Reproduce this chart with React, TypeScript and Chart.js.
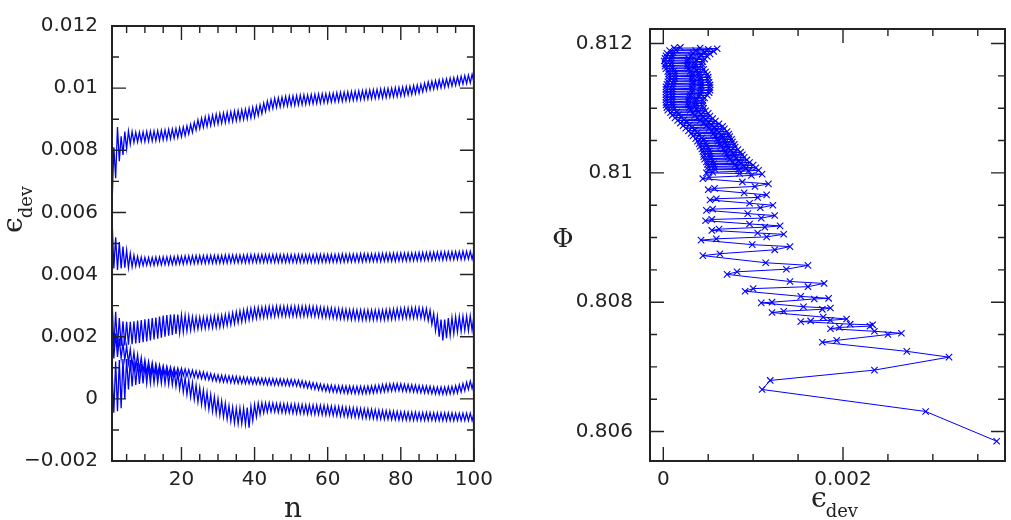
import React, { useEffect, useRef } from "react";
import { Chart, registerables } from "chart.js";

Chart.register(...registerables);

const BLUE = "#0000ff";
const AXIS = "#222222";
const TICK_FONT = { family: "DejaVu Sans", size: 20 };
const TITLE_FONT = "DejaVu Serif";

// ---- Left panel: eps_dev (x 1e-3) read at n = 1, 1.5, 2, ... 100 ----
const N_FIRST = 1;
const N_STEP = 0.5;
const EPS_SCALE = 1e-3;

const series1 = [
  6.20, 8.10, 7.10, 8.75, 7.65, 8.45, 7.85, 8.60, 8.05, 8.62, 8.20, 8.60, 8.25, 8.58, 8.27, 8.58, 8.28, 8.59, 8.28, 8.60,
  8.29, 8.61, 8.30, 8.62, 8.31, 8.63, 8.32, 8.64, 8.34, 8.65, 8.35, 8.67, 8.37, 8.68, 8.39, 8.70, 8.41, 8.72, 8.44, 8.75,
  8.47, 8.78, 8.52, 8.83, 8.58, 8.90, 8.65, 8.98, 8.70, 9.03, 8.74, 9.07, 8.77, 9.10, 8.80, 9.13, 8.83, 9.16, 8.85, 9.18,
  8.87, 9.20, 8.89, 9.22, 8.91, 9.24, 8.93, 9.26, 8.95, 9.28, 8.97, 9.30, 8.99, 9.32, 9.01, 9.35, 9.04, 9.38, 9.07, 9.41,
  9.12, 9.46, 9.18, 9.52, 9.25, 9.58, 9.31, 9.63, 9.35, 9.67, 9.38, 9.69, 9.40, 9.71, 9.42, 9.73, 9.43, 9.74, 9.44, 9.75,
  9.45, 9.76, 9.46, 9.77, 9.47, 9.78, 9.48, 9.78, 9.49, 9.79, 9.50, 9.80, 9.51, 9.81, 9.52, 9.82, 9.53, 9.82, 9.54, 9.83,
  9.55, 9.84, 9.56, 9.85, 9.57, 9.86, 9.58, 9.87, 9.59, 9.88, 9.60, 9.89, 9.61, 9.90, 9.62, 9.91, 9.63, 9.92, 9.64, 9.93,
  9.65, 9.94, 9.66, 9.95, 9.67, 9.96, 9.68, 9.97, 9.69, 9.98, 9.70, 9.99, 9.71, 10.00, 9.72, 10.01, 9.73, 10.02, 9.75, 10.03,
  9.76, 10.05, 9.78, 10.06, 9.80, 10.08, 9.82, 10.10, 9.84, 10.12, 9.88, 10.16, 9.92, 10.20, 9.95, 10.22, 9.97, 10.24, 9.99, 10.26,
  10.01, 10.28, 10.03, 10.30, 10.05, 10.32, 10.07, 10.34, 10.09, 10.36, 10.11, 10.38, 10.13, 10.40, 10.15, 10.42, 10.17, 10.44, 10.19,
];

const series2 = [
  5.85, 4.20, 5.20, 4.15, 5.05, 4.20, 4.90, 4.22, 4.78, 4.22, 4.68, 4.25, 4.62, 4.27, 4.58, 4.28, 4.56, 4.29, 4.55, 4.30,
  4.55, 4.30, 4.55, 4.30, 4.56, 4.31, 4.56, 4.31, 4.57, 4.32, 4.57, 4.32, 4.58, 4.33, 4.58, 4.33, 4.59, 4.34, 4.59, 4.34,
  4.60, 4.35, 4.60, 4.35, 4.60, 4.35, 4.61, 4.36, 4.61, 4.36, 4.61, 4.36, 4.62, 4.37, 4.62, 4.37, 4.62, 4.37, 4.62, 4.37,
  4.62, 4.37, 4.63, 4.37, 4.63, 4.38, 4.63, 4.38, 4.63, 4.38, 4.63, 4.38, 4.63, 4.38, 4.64, 4.38, 4.64, 4.39, 4.64, 4.39,
  4.64, 4.39, 4.64, 4.39, 4.64, 4.39, 4.64, 4.39, 4.64, 4.39, 4.64, 4.39, 4.64, 4.39, 4.64, 4.39, 4.64, 4.39, 4.64, 4.39,
  4.64, 4.39, 4.64, 4.39, 4.64, 4.39, 4.64, 4.39, 4.64, 4.39, 4.64, 4.39, 4.65, 4.39, 4.65, 4.40, 4.65, 4.40, 4.65, 4.40,
  4.65, 4.40, 4.65, 4.40, 4.65, 4.40, 4.66, 4.40, 4.66, 4.41, 4.66, 4.41, 4.66, 4.41, 4.66, 4.41, 4.67, 4.41, 4.67, 4.42,
  4.67, 4.42, 4.67, 4.42, 4.67, 4.42, 4.68, 4.42, 4.68, 4.43, 4.68, 4.43, 4.68, 4.43, 4.69, 4.43, 4.69, 4.44, 4.69, 4.44,
  4.69, 4.44, 4.70, 4.44, 4.70, 4.45, 4.70, 4.45, 4.71, 4.45, 4.71, 4.46, 4.71, 4.46, 4.72, 4.46, 4.72, 4.47, 4.72, 4.47,
  4.73, 4.47, 4.73, 4.48, 4.73, 4.48, 4.74, 4.48, 4.74, 4.49, 4.74, 4.49, 4.75, 4.49, 4.75, 4.50, 4.75, 4.50, 4.76,
];

const series3 = [
  3.30, 1.60, 2.80, 1.65, 2.60, 1.70, 2.50, 1.72, 2.48, 1.74, 2.48, 1.76, 2.50, 1.78, 2.52, 1.80, 2.54, 1.82, 2.56, 1.85,
  2.58, 1.88, 2.60, 1.91, 2.62, 1.94, 2.65, 1.97, 2.68, 2.00, 2.70, 2.03, 2.71, 2.06, 2.72, 2.09, 2.71, 2.12, 2.70, 2.15,
  2.68, 2.18, 2.66, 2.21, 2.64, 2.23, 2.63, 2.25, 2.63, 2.26, 2.63, 2.27, 2.64, 2.28, 2.65, 2.29, 2.66, 2.30, 2.67, 2.31,
  2.69, 2.33, 2.71, 2.36, 2.74, 2.39, 2.77, 2.42, 2.80, 2.45, 2.83, 2.48, 2.86, 2.51, 2.89, 2.54, 2.91, 2.57, 2.93, 2.59,
  2.94, 2.61, 2.95, 2.62, 2.96, 2.63, 2.97, 2.64, 2.97, 2.65, 2.98, 2.66, 2.98, 2.66, 2.98, 2.66, 2.98, 2.66, 2.98, 2.66,
  2.98, 2.66, 2.98, 2.66, 2.98, 2.66, 2.98, 2.66, 2.98, 2.66, 2.97, 2.65, 2.96, 2.64, 2.95, 2.63, 2.94, 2.62, 2.93, 2.61,
  2.92, 2.60, 2.91, 2.59, 2.90, 2.58, 2.89, 2.57, 2.88, 2.56, 2.87, 2.55, 2.87, 2.55, 2.86, 2.54, 2.86, 2.54, 2.86, 2.54,
  2.86, 2.54, 2.86, 2.54, 2.86, 2.54, 2.86, 2.54, 2.86, 2.54, 2.87, 2.55, 2.88, 2.56, 2.89, 2.57, 2.90, 2.58, 2.91, 2.59,
  2.92, 2.60, 2.92, 2.60, 2.93, 2.60, 2.93, 2.60, 2.93, 2.60, 2.92, 2.58, 2.90, 2.52, 2.85, 2.40, 2.75, 2.20, 2.65, 2.00,
  2.55, 1.88, 2.55, 1.95, 2.60, 2.05, 2.62, 2.10, 2.64, 2.15, 2.65, 2.18, 2.66, 2.20, 2.66, 2.20, 2.67, 2.21, 2.67,
];

const series4 = [
  2.40, 1.30, 2.10, 1.35, 1.95, 1.30, 1.80, 1.25, 1.70, 1.15, 1.60, 1.05, 1.50, 0.98, 1.42, 0.92, 1.33, 0.87, 1.25, 0.82,
  1.20, 0.81, 1.16, 0.80, 1.12, 0.79, 1.09, 0.79, 1.06, 0.78, 1.04, 0.78, 1.02, 0.77, 1.00, 0.77, 0.99, 0.76, 0.98, 0.75,
  0.96, 0.73, 0.94, 0.71, 0.92, 0.69, 0.90, 0.67, 0.88, 0.65, 0.86, 0.63, 0.84, 0.61, 0.81, 0.59, 0.79, 0.57, 0.77, 0.55,
  0.76, 0.54, 0.75, 0.53, 0.74, 0.52, 0.73, 0.51, 0.72, 0.50, 0.71, 0.50, 0.70, 0.49, 0.69, 0.49, 0.68, 0.48, 0.67, 0.48,
  0.67, 0.47, 0.66, 0.46, 0.66, 0.45, 0.65, 0.45, 0.65, 0.44, 0.64, 0.44, 0.64, 0.43, 0.63, 0.43, 0.63, 0.42, 0.62, 0.42,
  0.61, 0.41, 0.60, 0.39, 0.58, 0.37, 0.56, 0.35, 0.54, 0.33, 0.52, 0.31, 0.50, 0.29, 0.48, 0.27, 0.46, 0.25, 0.45, 0.23,
  0.44, 0.22, 0.43, 0.21, 0.42, 0.20, 0.42, 0.19, 0.41, 0.18, 0.41, 0.18, 0.40, 0.17, 0.40, 0.17, 0.40, 0.17, 0.40, 0.17,
  0.41, 0.18, 0.42, 0.19, 0.43, 0.20, 0.44, 0.21, 0.46, 0.23, 0.47, 0.24, 0.48, 0.25, 0.49, 0.26, 0.49, 0.26, 0.48, 0.25,
  0.47, 0.24, 0.46, 0.23, 0.45, 0.22, 0.44, 0.21, 0.43, 0.20, 0.42, 0.19, 0.41, 0.18, 0.40, 0.17, 0.39, 0.16, 0.38, 0.15,
  0.38, 0.15, 0.38, 0.15, 0.39, 0.16, 0.40, 0.17, 0.42, 0.19, 0.45, 0.22, 0.49, 0.26, 0.53, 0.30, 0.57, 0.33, 0.60,
];

const series5 = [
  1.00, -0.45, 1.20, -0.40, 1.25, -0.30, 1.28, 0.00, 1.28, 0.30, 1.25, 0.40, 1.20, 0.45, 1.16, 0.48, 1.12, 0.50, 1.08, 0.50,
  1.06, 0.51, 1.04, 0.51, 1.02, 0.51, 1.00, 0.50, 0.98, 0.49, 0.96, 0.47, 0.94, 0.45, 0.90, 0.40, 0.84, 0.32, 0.76, 0.22,
  0.68, 0.14, 0.60, 0.06, 0.52, -0.02, 0.44, -0.10, 0.36, -0.18, 0.28, -0.26, 0.21, -0.33, 0.14, -0.40, 0.07, -0.46, 0.00, -0.52,
  -0.07, -0.58, -0.14, -0.65, -0.22, -0.72, -0.27, -0.78, -0.30, -0.80, -0.30, -0.80, -0.30, -0.82, -0.28, -0.93, -0.24, -0.70, -0.18, -0.58,
  -0.14, -0.50, -0.13, -0.45, -0.13, -0.43, -0.13, -0.42, -0.14, -0.42, -0.15, -0.43, -0.15, -0.44, -0.16, -0.45, -0.16, -0.45, -0.17, -0.46,
  -0.17, -0.47, -0.18, -0.47, -0.18, -0.48, -0.19, -0.49, -0.19, -0.49, -0.20, -0.50, -0.20, -0.50, -0.21, -0.51, -0.21, -0.52, -0.22, -0.52,
  -0.23, -0.53, -0.24, -0.54, -0.25, -0.55, -0.26, -0.56, -0.27, -0.57, -0.28, -0.58, -0.29, -0.59, -0.30, -0.60, -0.31, -0.61, -0.32, -0.62,
  -0.33, -0.63, -0.34, -0.64, -0.35, -0.65, -0.36, -0.65, -0.37, -0.66, -0.38, -0.66, -0.39, -0.67, -0.40, -0.67, -0.41, -0.68, -0.42, -0.68,
  -0.42, -0.68, -0.43, -0.69, -0.43, -0.69, -0.43, -0.69, -0.44, -0.69, -0.44, -0.69, -0.44, -0.69, -0.44, -0.69, -0.45, -0.70, -0.45, -0.70,
  -0.45, -0.70, -0.45, -0.70, -0.45, -0.70, -0.45, -0.70, -0.46, -0.70, -0.46, -0.70, -0.46, -0.70, -0.46, -0.70, -0.46, -0.70, -0.46,
];

// ---- Right panel: (eps_dev x 1e-3, Phi) path, from the last cycle (top) down to the first ----
const phiEps = [
  0.19, 0.12, 0.41, 0.60, 0.50, 0.14, 0.07, 0.36, 0.56, 0.46, 0.11, 0.04, 0.33, 0.52, 0.42, 0.10, 0.03, 0.31, 0.49, 0.40,
  0.09, 0.02, 0.28, 0.46, 0.37, 0.08, 0.01, 0.27, 0.44, 0.35, 0.09, 0.02, 0.27, 0.43, 0.35, 0.09, 0.02, 0.27, 0.43, 0.35,
  0.10, 0.03, 0.28, 0.45, 0.37, 0.12, 0.05, 0.30, 0.47, 0.39, 0.13, 0.06, 0.32, 0.49, 0.40, 0.13, 0.06, 0.32, 0.50, 0.41,
  0.13, 0.06, 0.32, 0.50, 0.41, 0.12, 0.05, 0.33, 0.51, 0.42, 0.11, 0.04, 0.33, 0.52, 0.42, 0.10, 0.03, 0.32, 0.52, 0.42,
  0.10, 0.03, 0.32, 0.52, 0.42, 0.10, 0.03, 0.32, 0.51, 0.41, 0.10, 0.03, 0.30, 0.49, 0.40, 0.10, 0.03, 0.29, 0.46, 0.37,
  0.10, 0.03, 0.28, 0.44, 0.36, 0.10, 0.03, 0.28, 0.44, 0.36, 0.10, 0.03, 0.28, 0.44, 0.36, 0.11, 0.04, 0.29, 0.45, 0.37,
  0.12, 0.05, 0.30, 0.47, 0.39, 0.15, 0.08, 0.33, 0.50, 0.42, 0.17, 0.10, 0.35, 0.52, 0.44, 0.20, 0.13, 0.38, 0.55, 0.47,
  0.23, 0.16, 0.41, 0.58, 0.50, 0.26, 0.19, 0.45, 0.62, 0.53, 0.29, 0.22, 0.48, 0.66, 0.57, 0.32, 0.25, 0.51, 0.68, 0.59,
  0.35, 0.28, 0.54, 0.71, 0.62, 0.38, 0.31, 0.56, 0.73, 0.65, 0.40, 0.33, 0.58, 0.74, 0.66, 0.43, 0.36, 0.60, 0.76, 0.68,
  0.45, 0.38, 0.61, 0.77, 0.69, 0.47, 0.40, 0.63, 0.79, 0.71, 0.48, 0.41, 0.64, 0.80, 0.72, 0.50, 0.43, 0.67, 0.83, 0.75,
  0.51, 0.44, 0.69, 0.86, 0.78, 0.52, 0.45, 0.71, 0.88, 0.79, 0.52, 0.45, 0.72, 0.90, 0.81, 0.53, 0.46, 0.74, 0.93, 0.84,
  0.55, 0.48, 0.77, 0.96, 0.86, 0.56, 0.49, 0.80, 1.00, 0.90, 0.57, 0.50, 0.82, 1.03, 0.92, 0.57, 0.50, 0.84, 1.06, 0.95,
  0.55, 0.48, 0.85, 1.10, 0.98, 0.51, 0.44, 0.88, 1.17, 1.02, 0.57, 0.50, 0.90, 1.15, 1.05, 0.59, 0.52, 0.96, 1.22, 1.08,
  0.55, 0.48, 0.94, 1.24, 1.09, 0.54, 0.47, 0.96, 1.30, 1.13, 0.62, 0.54, 1.05, 1.34, 1.15, 0.59, 0.42, 0.99, 1.41, 1.24,
  0.63, 0.44, 1.14, 1.61, 1.37, 0.82, 0.71, 1.41, 1.79, 1.61, 1.00, 0.91, 1.53, 1.84, 1.68, 1.21, 1.09, 1.56, 1.86, 1.77,
  1.34, 1.21, 1.78, 2.04, 1.86, 1.64, 1.53, 2.08, 2.33, 2.30, 1.96, 1.86, 2.35, 2.65, 2.50, 1.93, 1.77, 2.71, 3.18, 2.35,
  1.19, 1.10, 2.92, 3.71,
];

const phiVals = [
  0.81194, 0.81193, 0.81193, 0.81192, 0.81191, 0.81190, 0.81189, 0.81189, 0.81188, 0.81187,
  0.81186, 0.81185, 0.81185, 0.81184, 0.81183, 0.81182, 0.81181, 0.81181, 0.81180, 0.81179,
  0.81178, 0.81177, 0.81177, 0.81176, 0.81175, 0.81174, 0.81173, 0.81173, 0.81172, 0.81171,
  0.81170, 0.81169, 0.81169, 0.81168, 0.81167, 0.81166, 0.81165, 0.81165, 0.81164, 0.81163,
  0.81162, 0.81161, 0.81161, 0.81160, 0.81159, 0.81158, 0.81157, 0.81157, 0.81156, 0.81155,
  0.81154, 0.81153, 0.81153, 0.81152, 0.81151, 0.81150, 0.81149, 0.81149, 0.81148, 0.81147,
  0.81146, 0.81145, 0.81145, 0.81144, 0.81143, 0.81142, 0.81141, 0.81141, 0.81140, 0.81139,
  0.81138, 0.81137, 0.81137, 0.81136, 0.81135, 0.81134, 0.81133, 0.81133, 0.81132, 0.81131,
  0.81130, 0.81129, 0.81129, 0.81128, 0.81127, 0.81126, 0.81125, 0.81125, 0.81124, 0.81123,
  0.81122, 0.81121, 0.81121, 0.81120, 0.81119, 0.81118, 0.81117, 0.81117, 0.81116, 0.81115,
  0.81114, 0.81113, 0.81113, 0.81112, 0.81111, 0.81110, 0.81109, 0.81109, 0.81108, 0.81107,
  0.81106, 0.81105, 0.81105, 0.81104, 0.81103, 0.81102, 0.81101, 0.81101, 0.81100, 0.81099,
  0.81098, 0.81097, 0.81097, 0.81096, 0.81095, 0.81094, 0.81093, 0.81093, 0.81092, 0.81091,
  0.81090, 0.81089, 0.81089, 0.81088, 0.81087, 0.81086, 0.81085, 0.81085, 0.81084, 0.81083,
  0.81082, 0.81081, 0.81081, 0.81080, 0.81079, 0.81078, 0.81077, 0.81077, 0.81076, 0.81075,
  0.81074, 0.81073, 0.81073, 0.81072, 0.81071, 0.81070, 0.81069, 0.81069, 0.81068, 0.81067,
  0.81066, 0.81065, 0.81065, 0.81064, 0.81063, 0.81062, 0.81061, 0.81061, 0.81060, 0.81059,
  0.81058, 0.81057, 0.81057, 0.81056, 0.81055, 0.81054, 0.81053, 0.81053, 0.81052, 0.81051,
  0.81050, 0.81049, 0.81049, 0.81048, 0.81047, 0.81046, 0.81045, 0.81045, 0.81044, 0.81043,
  0.81042, 0.81041, 0.81041, 0.81040, 0.81039, 0.81038, 0.81037, 0.81037, 0.81036, 0.81035,
  0.81034, 0.81033, 0.81033, 0.81032, 0.81031, 0.81030, 0.81029, 0.81029, 0.81028, 0.81027,
  0.81026, 0.81025, 0.81025, 0.81024, 0.81023, 0.81022, 0.81021, 0.81021, 0.81020, 0.81019,
  0.81018, 0.81017, 0.81017, 0.81016, 0.81015, 0.81014, 0.81013, 0.81013, 0.81012, 0.81011,
  0.81010, 0.81009, 0.81009, 0.81008, 0.81007, 0.81006, 0.81005, 0.81005, 0.81004, 0.81003,
  0.81001, 0.81000, 0.80999, 0.80998, 0.80996, 0.80993, 0.80991, 0.80986, 0.80983, 0.80979,
  0.80976, 0.80974, 0.80969, 0.80966, 0.80962, 0.80960, 0.80958, 0.80953, 0.80950, 0.80946,
  0.80944, 0.80942, 0.80937, 0.80934, 0.80930, 0.80928, 0.80926, 0.80921, 0.80918, 0.80916,
  0.80913, 0.80911, 0.80907, 0.80905, 0.80901, 0.80898, 0.80896, 0.80889, 0.80886, 0.80881,
  0.80875, 0.80872, 0.80861, 0.80857, 0.80851, 0.80847, 0.80843, 0.80832, 0.80829, 0.80824,
  0.80821, 0.80817, 0.80809, 0.80806, 0.80805, 0.80800, 0.80799, 0.80793, 0.80791, 0.80789,
  0.80786, 0.80784, 0.80777, 0.80774, 0.80772, 0.80771, 0.80770, 0.80766, 0.80765, 0.80763,
  0.80761, 0.80759, 0.80755, 0.80752, 0.80750, 0.80741, 0.80738, 0.80724, 0.80715, 0.80695,
  0.80679, 0.80665, 0.80631, 0.80585,
];

// ---- Axes ----
const leftXRange = [1, 100];
const leftYRange = [-0.002, 0.012];
const leftXMajor = [20, 40, 60, 80, 100];
const leftXLabels = ["20", "40", "60", "80", "100"];
const leftXMinor = [5, 10, 15, 25, 30, 35, 45, 50, 55, 65, 70, 75, 85, 90, 95];
const leftYMajor = [-0.002, 0, 0.002, 0.004, 0.006, 0.008, 0.01, 0.012];
const leftYLabels = ["\u22120.002", "0", "0.002", "0.004", "0.006", "0.008", "0.01", "0.012"];
const leftYMinor = [-0.001, 0.001, 0.003, 0.005, 0.007, 0.009, 0.011];

const rightXRange = [-0.000148, 0.003803];
const rightYRange = [0.805544, 0.812225];
const rightXMajor = [0, 0.002];
const rightXLabels = ["0", "0.002"];
const rightXMinor = [0.0005, 0.001, 0.0015, 0.0025, 0.003, 0.0035];
const rightYMajor = [0.806, 0.808, 0.81, 0.812];
const rightYLabels = ["0.806", "0.808", "0.81", "0.812"];
const rightYMinor = [0.8065, 0.807, 0.8075, 0.8085, 0.809, 0.8095, 0.8105, 0.811, 0.8115];

const MAJOR_LEN = 14;
const MINOR_LEN = 7;

type FrameCfg = {
  xMajor: number[];
  xMinor: number[];
  yMajor: number[];
  yMinor: number[];
  titles: (ctx: CanvasRenderingContext2D) => void;
};

function framePlugin(cfg: FrameCfg) {
  return {
    id: "frameTicks",
    afterDraw(chart: any) {
      const { ctx, chartArea: a } = chart;
      const xs = chart.scales.x;
      const ys = chart.scales.y;
      ctx.save();
      ctx.strokeStyle = AXIS;
      ctx.lineWidth = 1.4;
      ctx.beginPath();
      const xt = (v: number, len: number) => {
        const p = xs.getPixelForValue(v);
        ctx.moveTo(p, a.bottom);
        ctx.lineTo(p, a.bottom - len);
        ctx.moveTo(p, a.top);
        ctx.lineTo(p, a.top + len);
      };
      const yt = (v: number, len: number) => {
        const p = ys.getPixelForValue(v);
        ctx.moveTo(a.left, p);
        ctx.lineTo(a.left + len, p);
        ctx.moveTo(a.right, p);
        ctx.lineTo(a.right - len, p);
      };
      cfg.xMajor.forEach((v) => xt(v, MAJOR_LEN));
      cfg.xMinor.forEach((v) => xt(v, MINOR_LEN));
      cfg.yMajor.forEach((v) => yt(v, MAJOR_LEN));
      cfg.yMinor.forEach((v) => yt(v, MINOR_LEN));
      ctx.stroke();
      ctx.lineWidth = 2;
      ctx.strokeRect(a.left, a.top, a.right - a.left, a.bottom - a.top);
      ctx.fillStyle = AXIS;
      cfg.titles(ctx);
      ctx.restore();
    },
  };
}

function epsLabel(ctx: CanvasRenderingContext2D, x: number, y: number, rotate: boolean) {
  ctx.save();
  ctx.translate(x, y);
  if (rotate) ctx.rotate(-Math.PI / 2);
  ctx.textAlign = "left";
  ctx.textBaseline = "alphabetic";
  ctx.font = `28px ${TITLE_FONT}`;
  ctx.fillText("\u03F5", 0, 0);
  const w = ctx.measureText("\u03F5").width;
  ctx.font = `18px ${TITLE_FONT}`;
  ctx.fillText("dev", w - 1, 10);
  ctx.restore();
}

function axisCommon(range: number[], ticks: number[], labels: string[], padding: number, fit: (s: any) => void) {
  return {
    type: "linear" as const,
    min: range[0],
    max: range[1],
    grid: { display: false, drawTicks: false },
    border: { display: false },
    ticks: {
      color: AXIS,
      font: TICK_FONT,
      padding,
      autoSkip: false,
      maxRotation: 0,
      callback: (_v: any, i: number) => labels[i],
    },
    afterBuildTicks: (s: any) => {
      s.ticks = ticks.map((v) => ({ value: v }));
    },
    afterFit: fit,
  };
}

export default function App() {
  const leftRef = useRef<HTMLCanvasElement>(null);
  const rightRef = useRef<HTMLCanvasElement>(null);

  useEffect(() => {
    const leftSeries = [series1, series2, series3, series4, series5];
    const left = new Chart(leftRef.current as HTMLCanvasElement, {
      type: "line",
      data: {
        datasets: leftSeries.map((s) => ({
          data: s.map((v, i) => ({ x: N_FIRST + i * N_STEP, y: v * EPS_SCALE })),
          borderColor: BLUE,
          borderWidth: 1.3,
          pointRadius: 0,
          tension: 0,
          fill: false,
        })),
      },
      options: {
        animation: false,
        responsive: false,
        maintainAspectRatio: false,
        layout: { padding: { left: 0, top: 16, right: 26, bottom: 0 } },
        plugins: { legend: { display: false }, tooltip: { enabled: false } },
        scales: {
          x: axisCommon(leftXRange, leftXMajor, leftXLabels, 7, (s: any) => {
            s.height = 59;
          }),
          y: axisCommon(leftYRange, leftYMajor, leftYLabels, 14, (s: any) => {
            s.width = 112;
          }),
        },
      } as any,
      plugins: [
        framePlugin({
          xMajor: leftXMajor,
          xMinor: leftXMinor,
          yMajor: leftYMajor,
          yMinor: leftYMinor,
          titles: (ctx) => {
            epsLabel(ctx, 22, 233, true);
            ctx.font = `28px ${TITLE_FONT}`;
            ctx.textAlign = "center";
            ctx.textBaseline = "alphabetic";
            ctx.fillText("n", 293, 517);
          },
        }),
      ],
    });

    const right = new Chart(rightRef.current as HTMLCanvasElement, {
      type: "line",
      data: {
        datasets: [
          {
            data: phiEps.map((e, i) => ({ x: e * EPS_SCALE, y: phiVals[i] })),
            borderColor: BLUE,
            backgroundColor: BLUE,
            borderWidth: 1,
            pointStyle: "crossRot",
            pointRadius: 4.5,
            pointBorderWidth: 1.1,
            pointBorderColor: BLUE,
            tension: 0,
            fill: false,
          },
        ],
      },
      options: {
        animation: false,
        responsive: false,
        maintainAspectRatio: false,
        layout: { padding: { left: 0, top: 16, right: 6, bottom: 0 } },
        plugins: { legend: { display: false }, tooltip: { enabled: false } },
        scales: {
          x: axisCommon(rightXRange, rightXMajor, rightXLabels, 7, (s: any) => {
            s.height = 59;
          }),
          y: axisCommon(rightYRange, rightYMajor, rightYLabels, 17, (s: any) => {
            s.width = 150;
          }),
        },
      } as any,
      plugins: [
        framePlugin({
          xMajor: rightXMajor,
          xMinor: rightXMinor,
          yMajor: rightYMajor,
          yMinor: rightYMinor,
          titles: (ctx) => {
            epsLabel(ctx, 311, 507, false);
            ctx.font = `26px ${TITLE_FONT}`;
            ctx.textAlign = "center";
            ctx.textBaseline = "alphabetic";
            ctx.fillText("\u03A6", 63, 247);
          },
        }),
      ],
    });

    return () => {
      left.destroy();
      right.destroy();
    };
  }, []);

  return (
    <div style={{ position: "absolute", left: 0, top: 0, width: 1011, height: 520, background: "#ffffff" }}>
      <canvas
        ref={leftRef}
        width={500}
        height={520}
        style={{ position: "absolute", left: 0, top: 0, width: 500, height: 520 }}
      />
      <canvas
        ref={rightRef}
        width={511}
        height={520}
        style={{ position: "absolute", left: 500, top: 0, width: 511, height: 520 }}
      />
    </div>
  );
}
